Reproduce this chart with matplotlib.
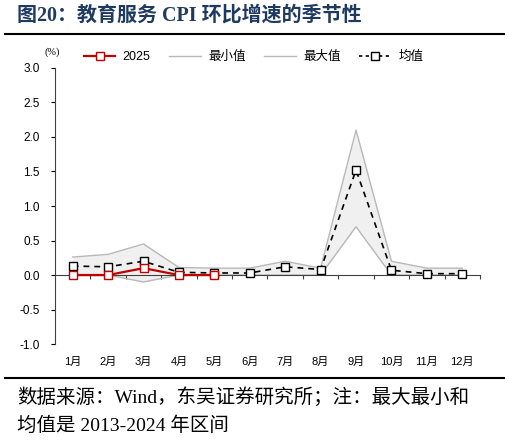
import matplotlib
matplotlib.use("Agg")
import matplotlib.pyplot as plt
from matplotlib.lines import Line2D
import numpy as np

months = ["1月", "2月", "3月", "4月", "5月", "6月", "7月", "8月", "9月", "10月", "11月", "12月"]
min_vals = [0.0, 0.0, -0.1, 0.0, 0.0, 0.0, 0.0, 0.0, 0.7, 0.0, 0.0, 0.0]
max_vals = [0.26, 0.30, 0.45, 0.11, 0.10, 0.10, 0.20, 0.10, 2.10, 0.20, 0.10, 0.10]
mean_vals = [0.13, 0.12, 0.20, 0.04, 0.03, 0.03, 0.12, 0.08, 1.52, 0.07, 0.02, 0.02]
vals_2025 = [0.0, 0.0, 0.10, 0.0, 0.0]
yticks = [-1.0, -0.5, 0.0, 0.5, 1.0, 1.5, 2.0, 2.5, 3.0]

SANS = ["Liberation Sans", "Noto Sans CJK SC"]
SERIF = ["Liberation Serif", "Noto Sans CJK SC"]

fig = plt.figure(figsize=(5.09, 4.44), dpi=100)
ax = fig.add_axes([0.108, 0.225, 0.835, 0.622])

x = np.arange(len(months))
ax.fill_between(x, min_vals, max_vals, color="#f0f0f0", zorder=1, linewidth=0)
ax.plot(x, min_vals, color="#b8b8b8", lw=1.0, zorder=2)
ax.plot(x, max_vals, color="#b8b8b8", lw=1.0, zorder=2)
ax.plot(x, mean_vals, color="black", lw=1.2, ls=(0, (3.5, 3)), marker="s", ms=6,
        mfc="white", mec="black", mew=1.0, zorder=4)
x25 = np.arange(len(vals_2025))
ax.plot(x25, vals_2025, color="#c00000", lw=1.6, marker="s", ms=6,
        mfc="white", mec="#c00000", mew=1.0, zorder=5)

ax.set_xlim(-0.5, len(months) - 0.5)
ax.set_ylim(-1.0, 3.0)
ax.set_yticks(yticks)
ax.set_yticklabels([f"{v:.1f}" for v in yticks], fontfamily=SANS, fontsize=8.5)
ax.tick_params(axis="y", direction="out", length=3, width=0.8, colors="black", pad=8)

ax.spines["top"].set_visible(False)
ax.spines["right"].set_visible(False)
ax.spines["left"].set_color("#404040")
ax.spines["left"].set_linewidth(0.8)
ax.spines["bottom"].set_position(("data", 0))
ax.spines["bottom"].set_color("#404040")
ax.spines["bottom"].set_linewidth(0.8)
ax.set_xticks(np.arange(0.5, len(months) - 0.4, 1.0))
ax.set_xticklabels([])
ax.tick_params(axis="x", direction="out", length=3, width=0.8, colors="#404040")

for i, m in enumerate(months):
    ax.text(i, -0.045, m, transform=ax.get_xaxis_transform(), ha="center", va="top",
            fontsize=8, fontfamily=SANS)

ax.text(0.088, 0.872, "(%)", transform=fig.transFigure, fontsize=7.5, fontfamily=SERIF,
        ha="left", va="bottom")

handles = [
    Line2D([], [], color="#c00000", lw=1.6, marker="s", ms=6, mfc="white", mec="#c00000"),
    Line2D([], [], color="#b8b8b8", lw=1.0),
    Line2D([], [], color="#b8b8b8", lw=1.0),
    Line2D([], [], color="black", lw=1.2, ls=(0, (2, 2)), marker="s", ms=6, mfc="white", mec="black"),
]
labels = ["2025", "最小值", "最大值", "均值"]
leg = fig.legend(handles, labels, loc="center left", bbox_to_anchor=(0.165, 0.871), ncol=4,
                 frameon=False, prop={"family": SANS, "size": 9}, handlelength=2.5,
                 columnspacing=1.5, handletextpad=0.6, borderpad=0, borderaxespad=0)

fig.text(0.033, 0.965, "图20：教育服务 CPI 环比增速的季节性", fontsize=14.4, fontweight="bold",
         color="#1f3a60", fontfamily=["Liberation Serif", "Noto Sans CJK SC"], ha="left", va="center")
fig.add_artist(Line2D([0.01, 0.99], [0.923, 0.923], transform=fig.transFigure, color="black", lw=1.5))
fig.add_artist(Line2D([0.01, 0.99], [0.149, 0.149], transform=fig.transFigure, color="black", lw=1.5))
fig.text(0.033, 0.105, "数据来源：Wind，东吴证券研究所；注：最大最小和", fontsize=14,
         fontfamily=SERIF, ha="left", va="center")
fig.text(0.033, 0.042, "均值是 2013-2024 年区间", fontsize=14,
         fontfamily=SERIF, ha="left", va="center")

fig.savefig("out.png", dpi=100)
